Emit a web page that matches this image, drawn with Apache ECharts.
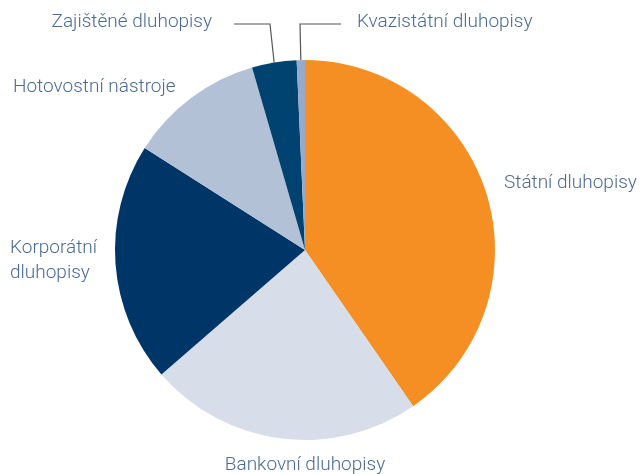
<!DOCTYPE html>
<html>
<head>
<meta charset="utf-8">
<script src="https://cdn.jsdelivr.net/npm/echarts@6/dist/echarts.min.js"></script>
<style>
html, body { margin: 0; padding: 0; background: #fff; }
#chart { width: 641px; height: 474px; }
</style>
</head>
<body>
<div id="chart"></div>
<script>
const categories = [
    "Státní dluhopisy",
    "Bankovní dluhopisy",
    "Korporátní\ndluhopisy",
    "Hotovostní nástroje",
    "Zajištěné dluhopisy",
    "Kvazistátní dluhopisy"
];
const values = [40.4, 23.3, 20.4, 11.5, 3.8, 0.7];
const colors = ["#F58F23", "#D7DEEA", "#003567", "#B3C1D6", "#004371", "#97AACA"];

// where each label sits: [x, y, align]
const labelSpots = [
    [504, 183, "left"],
    [305, 465, "center"],
    [10, 261, "left"],
    [13, 87, "left"],
    [212, 22, "right"],
    [357, 22, "left"]
];

const chart = echarts.init(document.getElementById("chart"));

chart.setOption({
    animation: false,
    series: [
        {
            type: "pie",
            center: [305, 250],
            radius: 190,
            startAngle: 90,
            clockwise: true,
            label: {
                show: true,
                position: "outside",
                overflow: "none",
                color: "#4A6A95",
                fontFamily: "Roboto",
                fontWeight: 300,
                fontSize: 19,
                lineHeight: 25
            },
            labelLine: {
                show: false,
                lineStyle: { color: "#555", width: 1.2 }
            },
            labelLayout: function(params){
                const s = labelSpots[params.dataIndex];
                const out = {
                    x: s[0],
                    y: s[1],
                    align: s[2],
                    verticalAlign: "middle"
                };
                const pts = params.labelLinePoints;
                if(params.dataIndex === 4 && pts){
                    out.labelLinePoints = [pts[0], [270, 24], [234, 24]];
                }
                if(params.dataIndex === 5 && pts){
                    out.labelLinePoints = [pts[0], [300, 24], [341, 24]];
                }
                return out;
            },
            data: categories.map((name, i) => ({
                name: name,
                value: values[i],
                itemStyle: { color: colors[i] },
                labelLine: { show: i >= 4 }
            }))
        }
    ]
});
</script>
</body>
</html>
